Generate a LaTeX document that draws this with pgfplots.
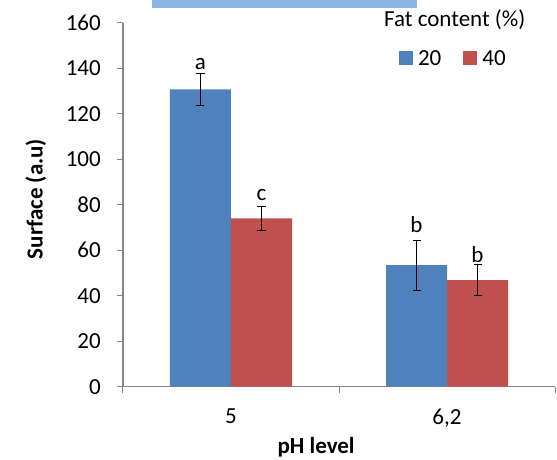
\documentclass[border=0pt]{standalone}
\usepackage{pgfplots}
\pgfplotsset{compat=1.18}
\usepackage{fontspec}
\setmainfont{Carlito}
\definecolor{cblue}{HTML}{4F81BD}
\definecolor{cred}{HTML}{C0504D}
\definecolor{lblue}{HTML}{8EB4E3}
\definecolor{axgray}{HTML}{868686}
\newcommand{\fsz}{\fontsize{23bp}{27bp}\selectfont}
\begin{document}
\begin{tikzpicture}
\begin{axis}[
  name=ax,
  at={(0,0)}, anchor=south west,
  scale only axis, width=432bp, height=364bp,
  xmin=-0.5, xmax=1.5, ymin=0, ymax=160,
  clip=false,
  ybar=0pt, bar width=61bp,
  ytick={0,20,...,160},
  xtick={-0.5,0.5,1.5}, xticklabels={},
  extra x ticks={0,1}, extra x tick labels={5,{6,2}},
  extra x tick style={major tick length=0pt, xticklabel style={anchor=north, inner sep=0pt, yshift=-22bp}},
  axis lines=left, axis line style={axgray, line width=1.2bp, -},
  tick align=outside, major tick length=6bp,
  tick style={axgray, line width=1bp},
  ticklabel style={font=\fsz},
  yticklabel style={anchor=east, inner sep=0pt, xshift=-16bp},
  /pgf/number format/assume math mode=true,
  xlabel={\textbf{pH level}},
  xlabel style={at={(axis description cs:0.447,0)}, anchor=base, inner sep=0pt, yshift=-66.5bp, font=\fsz},
  ylabel={\textbf{Surface (a.u)}},
  ylabel style={at={(axis description cs:-0.202,0.5157)}, anchor=center, inner sep=0pt, font=\fsz},
  legend columns=2,
  legend style={at={(rel axis cs:0.639,0.900)}, anchor=west, draw=none, fill=none,
    inner sep=0pt, outer sep=0pt,
    /tikz/every even column/.append style={column sep=22bp},
    nodes={inner sep=0pt, font=\fsz, anchor=west}},
]
\addplot[fill=cblue, draw=none,
  legend image code/.code={\fill[cblue] (0bp,-6bp) rectangle (14bp,8bp); \path (19bp,0bp);},
  error bars/.cd, y dir=both, y explicit,
  error bar style={black, line width=1bp},
  error mark options={black, rotate=90, mark size=4bp, line width=1bp}]
  coordinates {(0,130.7) +- (0,7.0) (1,53.4) +- (0,11.0)};
\addlegendentry{20}
\addplot[fill=cred, draw=none,
  legend image code/.code={\fill[cred] (0bp,-6bp) rectangle (14bp,8bp); \path (19bp,0bp);},
  error bars/.cd, y dir=both, y explicit,
  error bar style={black, line width=1bp},
  error mark options={black, rotate=90, mark size=4bp, line width=1bp}]
  coordinates {(0,74.0) +- (0,5.4) (1,46.8) +- (0,6.9)};
\addlegendentry{40}
\node[font=\fsz] at (axis cs:-0.1412,141.8) {a};
\node[font=\fsz] at (axis cs:0.1412,84.3) {c};
\node[font=\fsz] at (axis cs:0.8588,71.1) {b};
\node[font=\fsz] at (axis cs:1.1412,57.9) {b};
\node[font=\fsz, inner sep=0pt] at (rel axis cs:0.768,1.0074) {Fat content (\%)};
\fill[lblue] (rel axis cs:0.0671,1.0396) rectangle (rel axis cs:0.680,1.0624);
\end{axis}
\pgfresetboundingbox
\path[use as bounding box] ([xshift=-123bp,yshift=-73.3bp]ax.south west) rectangle ([xshift=2bp,yshift=22.7bp]ax.north east);
\end{tikzpicture}
\end{document}
